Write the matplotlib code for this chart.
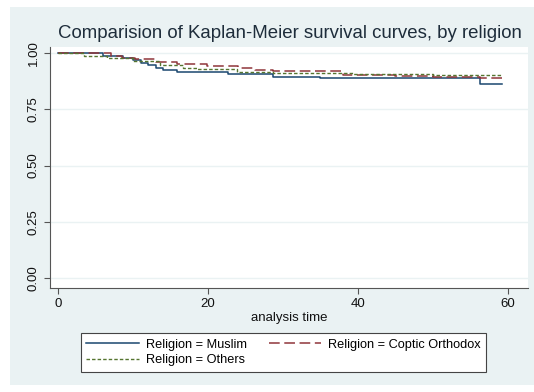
import numpy as np
import matplotlib
matplotlib.use("Agg")
import matplotlib.pyplot as plt
from matplotlib.patches import Rectangle

plt.rcParams['font.family'] = ['Liberation Sans', 'DejaVu Sans']

# Kaplan-Meier step values (time, survival)
muslim_t = [0, 6, 8.7, 10, 11, 12, 13, 14, 15.9, 22.7, 28.7, 35, 56.3, 59.2]
muslim_s = [1, 0.987, 0.976, 0.97, 0.957, 0.947, 0.935, 0.924, 0.917, 0.905,
            0.895, 0.888, 0.862, 0.862]

coptic_t = [0, 7, 8.5, 10.3, 13, 15.9, 19.8, 24, 26.3, 28.7, 38, 45, 50, 56.3, 59.2]
coptic_s = [1, 0.985, 0.978, 0.972, 0.961, 0.95, 0.942, 0.932, 0.924, 0.92,
            0.902, 0.897, 0.895, 0.888, 0.888]

others_t = [0, 3.5, 6.5, 10, 13.6, 16.7, 18.5, 23.9, 28.7, 39.3, 50, 59.2]
others_s = [1, 0.987, 0.976, 0.965, 0.947, 0.935, 0.929, 0.917, 0.913, 0.909,
            0.904, 0.904]

x_ticks = [0, 20, 40, 60]
y_ticks = [0, 0.25, 0.5, 0.75, 1.0]
y_labels = ['0.00', '0.25', '0.50', '0.75', '1.00']

W, H = 534, 392
fig = plt.figure(figsize=(W / 100, H / 100), dpi=100, facecolor='white')
# stata-like graph region
bg = Rectangle((10 / W, 1 - 385 / H), (W - 10) / W, (385 - 7) / H,
               transform=fig.transFigure, facecolor='#eaf2f3',
               edgecolor='none', zorder=-5)
fig.patches.append(bg)

ax = fig.add_axes([50 / W, 1 - 288 / H, (528 - 50) / W, (288 - 47) / H])
ax.set_zorder(1)
ax.set_facecolor('white')

l1, = ax.step(muslim_t, muslim_s, where='post', color='#1a476f', lw=1.1,
              label='Religion = Muslim')
l2, = ax.step(coptic_t, coptic_s, where='post', color='#90353b', lw=1.1,
              dashes=(7, 3), label='Religion = Coptic Orthodox')
l3, = ax.step(others_t, others_s, where='post', color='#55752f', lw=1.0,
              dashes=(2.5, 1.5), label='Religion = Others')

ax.set_xlim(-1.07, 62.67)
ax.set_ylim(-0.044, 1.027)
ax.set_xticks(x_ticks)
ax.set_yticks(y_ticks)
ax.set_yticklabels(y_labels, rotation=90, va='center')
ax.tick_params(labelsize=9.5, length=4, width=0.8, color='#555555',
               labelcolor='#111111')
ax.grid(axis='y', color='#eaf2f3', lw=1.0)
ax.set_axisbelow(True)
for side in ['top', 'right']:
    ax.spines[side].set_visible(False)
for side in ['left', 'bottom']:
    ax.spines[side].set_color('#555555')
    ax.spines[side].set_linewidth(0.8)

ax.set_xlabel('analysis time', fontsize=9.5, color='#111111', labelpad=1)
fig.text(290 / W, 1 - 33 / H,
         'Comparision of Kaplan-Meier survival curves, by religion',
         ha='center', va='center', fontsize=13.4, color='#1e2d3b')

leg = fig.legend(handles=[l1, l3, l2], ncol=2, loc='center',
                 bbox_to_anchor=(283.5 / W, 1 - 352.5 / H), fontsize=9.2,
                 fancybox=False, edgecolor='#444444', framealpha=1,
                 handlelength=4.1, columnspacing=1.7, handletextpad=0.55,
                 borderpad=0.4, labelspacing=0.3)
leg.get_frame().set_linewidth(0.8)

fig.savefig('out.png', dpi=100, facecolor=fig.get_facecolor())
